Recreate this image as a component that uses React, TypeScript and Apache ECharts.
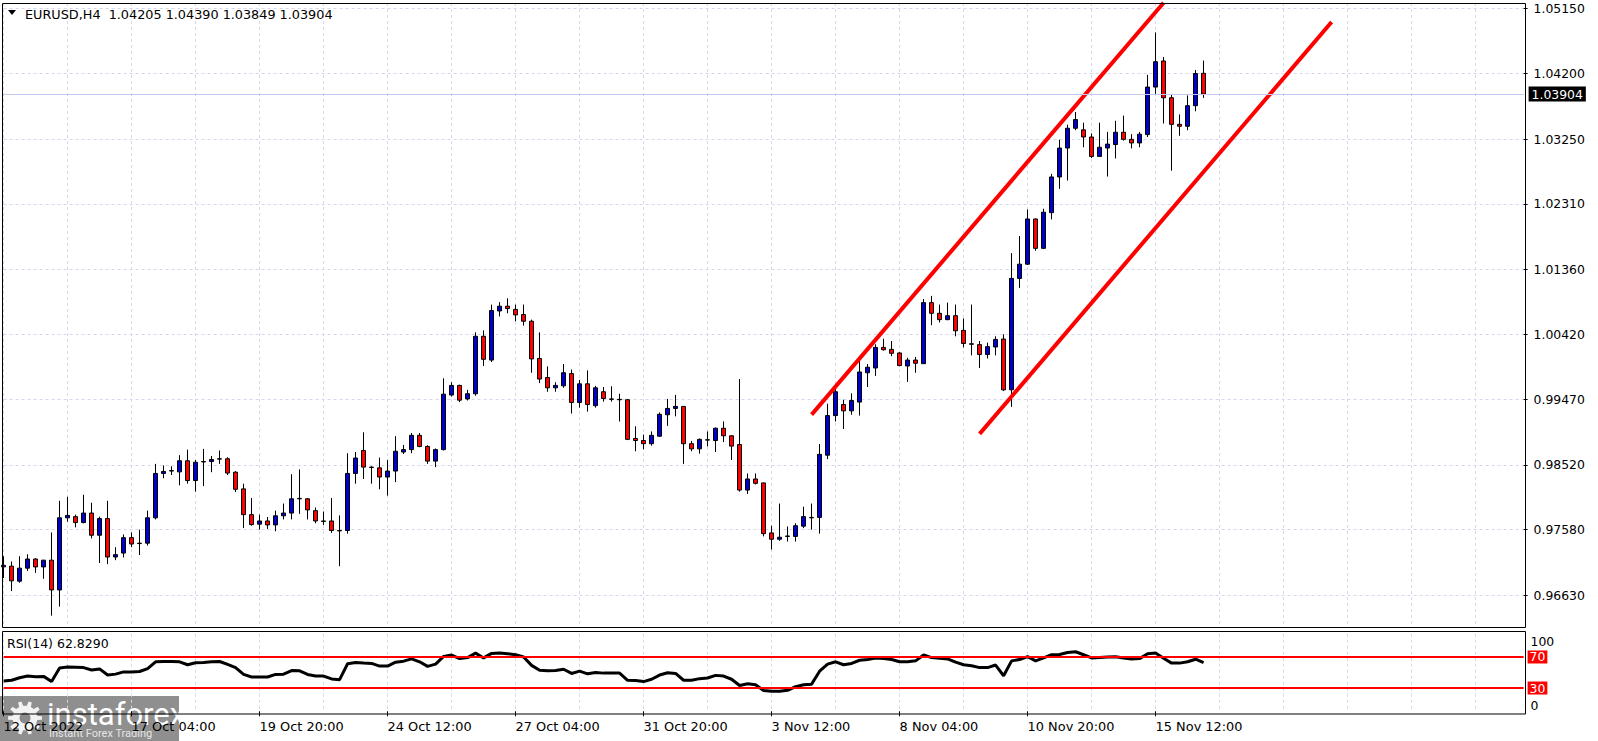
import React, { useEffect, useRef } from 'react';
import * as echarts from 'echarts';

// ---------- data ----------
const symbolName = 'EURUSD,H4';
const rsiName = 'RSI(14)';
const dateLabels = ['12 Oct 2022', '17 Oct 04:00', '19 Oct 20:00', '24 Oct 12:00', '27 Oct 04:00', '31 Oct 20:00', '3 Nov 12:00', '8 Nov 04:00', '10 Nov 20:00', '15 Nov 12:00'];
const barsPerLabel = 16;
const barsPerGridLine = 8;
const slotCount = 191; // bars + empty space to the right

const opens = [
  0.97040, 0.97050, 0.96832, 0.97021, 0.97154, 0.97039, 0.97137, 0.96705, 0.97752, 0.97769,
  0.97683, 0.97821, 0.97499, 0.97741, 0.97183, 0.97240, 0.97464, 0.97384, 0.97384, 0.97752,
  0.98396, 0.98431, 0.98419, 0.98580, 0.98293, 0.98569, 0.98569, 0.98604, 0.98609, 0.98414,
  0.98172, 0.97798, 0.97660, 0.97706, 0.97649, 0.97781, 0.97821, 0.98028, 0.98028, 0.97856,
  0.97706, 0.97706, 0.97568, 0.97568, 0.98396, 0.98730, 0.98488, 0.98477, 0.98344, 0.98431,
  0.98707, 0.98742, 0.98949, 0.98788, 0.98575, 0.98742, 0.99535, 0.99674, 0.99478, 0.99553,
  1.00387, 1.00042, 1.00755, 1.00824, 1.00778, 1.00703, 1.00606, 1.00065, 0.99789, 0.99639,
  0.99668, 0.99846, 0.99426, 0.99697, 0.99380, 0.99582, 0.99478, 0.99472, 0.99466, 0.98903,
  0.98874, 0.98828, 0.98937, 0.99248, 0.99340, 0.99369, 0.98828, 0.98753, 0.98885, 0.98874,
  0.99052, 0.98943, 0.98816, 0.98155, 0.98316, 0.98258, 0.97533, 0.97441, 0.97482, 0.97482,
  0.97631, 0.97758, 0.97758, 0.98661, 0.99236, 0.99397, 0.99305, 0.99432, 0.99858, 0.99927,
  1.00226, 1.00197, 1.00145, 0.99956, 1.00042, 0.99990, 1.00876, 1.00721, 1.00629, 1.00686,
  1.00473, 1.00278, 1.00266, 1.00122, 1.00232, 1.00347, 0.99610, 1.01227, 1.01434, 1.02090,
  1.01664, 1.02182, 1.02700, 1.03120, 1.03407, 1.03384, 1.03280, 1.02998, 1.03120, 1.03171,
  1.03349, 1.03246, 1.03194, 1.03315, 1.04005, 1.04384, 1.03850, 1.03464, 1.03436, 1.03735,
  1.04205,
];
const highs = [
  0.97194, 0.97119, 0.97194, 0.97223, 0.97165, 0.97142, 0.97539, 0.97999, 0.98057, 0.97798,
  0.98086, 0.97971, 0.97769, 0.97999, 0.97326, 0.97510, 0.97539, 0.97580, 0.97856, 0.98535,
  0.98512, 0.98500, 0.98661, 0.98742, 0.98592, 0.98753, 0.98650, 0.98730, 0.98632, 0.98431,
  0.98247, 0.98040, 0.97798, 0.97764, 0.97856, 0.97959, 0.98385, 0.98454, 0.98040, 0.97902,
  0.97844, 0.98040, 0.97787, 0.98690, 0.98707, 0.98994, 0.98500, 0.98626, 0.98592, 0.98937,
  0.98810, 0.98983, 0.98983, 0.98805, 0.98759, 0.99777, 0.99720, 0.99685, 0.99610, 1.00444,
  1.00473, 1.00847, 1.00882, 1.00939, 1.00847, 1.00847, 1.00629, 1.00444, 0.99950, 0.99720,
  0.99984, 0.99904, 0.99754, 0.99892, 0.99668, 0.99651, 0.99662, 0.99553, 0.99478, 0.99081,
  0.98960, 0.99006, 0.99282, 0.99478, 0.99536, 0.99375, 0.98868, 0.98903, 0.99006, 0.99064,
  0.99150, 0.98949, 0.99766, 0.98396, 0.98396, 0.98264, 0.97637, 0.97959, 0.97626, 0.97672,
  0.97913, 0.97959, 0.98822, 0.99409, 0.99697, 0.99466, 0.99559, 1.00099, 0.99984, 1.00272,
  1.00352, 1.00318, 1.00157, 1.00076, 1.00088, 1.00928, 1.00974, 1.00847, 1.00876, 1.00847,
  1.00646, 1.00847, 1.00318, 1.00295, 1.00387, 1.00416, 1.01595, 1.01842, 1.02228, 1.02096,
  1.02239, 1.02746, 1.03241, 1.03459, 1.03643, 1.03488, 1.03332, 1.03488, 1.03355, 1.03516,
  1.03591, 1.03321, 1.03355, 1.04183, 1.04799, 1.04442, 1.03896, 1.03608, 1.03884, 1.04253,
  1.04390,
];
const lows = [
  0.96878, 0.96688, 0.96809, 0.96981, 0.96952, 0.96866, 0.96331, 0.96463, 0.97694, 0.97614,
  0.97672, 0.97453, 0.97096, 0.97079, 0.97137, 0.97177, 0.97326, 0.97211, 0.97349, 0.97729,
  0.98327, 0.98373, 0.98224, 0.98247, 0.98132, 0.98212, 0.98414, 0.98535, 0.98373, 0.98126,
  0.97603, 0.97637, 0.97580, 0.97591, 0.97557, 0.97729, 0.97729, 0.97810, 0.97729, 0.97672,
  0.97649, 0.97533, 0.97050, 0.97522, 0.98247, 0.98316, 0.98247, 0.98166, 0.98074, 0.98270,
  0.98678, 0.98690, 0.98776, 0.98535, 0.98488, 0.98730, 0.99512, 0.99432, 0.99455, 0.99524,
  0.99956, 1.00013, 1.00675, 1.00721, 1.00606, 1.00542, 0.99858, 0.99708, 0.99582, 0.99582,
  0.99639, 0.99265, 0.99351, 0.99294, 0.99351, 0.99438, 0.99438, 0.99150, 0.98880, 0.98718,
  0.98747, 0.98799, 0.98926, 0.99087, 0.99225, 0.98535, 0.98718, 0.98684, 0.98788, 0.98707,
  0.98851, 0.98592, 0.98132, 0.98097, 0.98236, 0.97482, 0.97292, 0.97418, 0.97407, 0.97407,
  0.97603, 0.97580, 0.97522, 0.98604, 0.99150, 0.99041, 0.99248, 0.99236, 0.99651, 0.99812,
  1.00180, 1.00099, 0.99950, 0.99725, 0.99858, 0.99984, 1.00548, 1.00588, 1.00620, 1.00387,
  1.00226, 1.00110, 0.99927, 1.00065, 1.00110, 0.99593, 0.99363, 1.01090, 1.01422, 1.01630,
  1.01653, 1.02084, 1.02527, 1.02648, 1.03378, 1.03131, 1.02975, 1.02992, 1.02706, 1.02969,
  1.03228, 1.03114, 1.03131, 1.03280, 1.03907, 1.03476, 1.02791, 1.03298, 1.03378, 1.03654,
  1.03849,
];
const closes = [
  0.97062, 0.96837, 0.97021, 0.97154, 0.97039, 0.97137, 0.96705, 0.97752, 0.97787, 0.97683,
  0.97821, 0.97499, 0.97741, 0.97183, 0.97217, 0.97464, 0.97372, 0.97378, 0.97752, 0.98396,
  0.98425, 0.98437, 0.98580, 0.98293, 0.98558, 0.98563, 0.98598, 0.98609, 0.98402, 0.98166,
  0.97798, 0.97654, 0.97706, 0.97649, 0.97781, 0.97821, 0.98028, 0.98034, 0.97867, 0.97706,
  0.97700, 0.97568, 0.97562, 0.98396, 0.98620, 0.98488, 0.98483, 0.98344, 0.98431, 0.98718,
  0.98742, 0.98949, 0.98788, 0.98575, 0.98742, 0.99547, 0.99674, 0.99460, 0.99553, 1.00387,
  1.00053, 1.00761, 1.00824, 1.00790, 1.00698, 1.00606, 1.00059, 0.99766, 0.99639, 0.99674,
  0.99858, 0.99426, 0.99697, 0.99397, 0.99639, 0.99484, 0.99472, 0.99466, 0.98891, 0.98874,
  0.98828, 0.98949, 0.99254, 0.99340, 0.99369, 0.98828, 0.98753, 0.98891, 0.98880, 0.99052,
  0.98943, 0.98793, 0.98155, 0.98316, 0.98253, 0.97522, 0.97441, 0.97470, 0.97488, 0.97637,
  0.97769, 0.97752, 0.98673, 0.99236, 0.99582, 0.99305, 0.99455, 0.99869, 0.99938, 1.00226,
  1.00192, 1.00140, 0.99962, 1.00042, 0.99996, 1.00876, 1.00721, 1.00629, 1.00686, 1.00467,
  1.00283, 1.00272, 1.00122, 1.00237, 1.00341, 0.99610, 1.01227, 1.01434, 1.02090, 1.01664,
  1.02188, 1.02700, 1.03120, 1.03407, 1.03533, 1.03280, 1.02998, 1.03131, 1.03177, 1.03349,
  1.03246, 1.03194, 1.03321, 1.04005, 1.04373, 1.03850, 1.03464, 1.03436, 1.03735, 1.04201,
  1.03904,
];
const rsiValues = [
  39.2, 40.0, 43.3, 45.4, 44.6, 45.0, 38.3, 55.8, 57.1, 56.7,
  56.3, 53.3, 54.6, 46.7, 47.9, 50.8, 50.8, 51.3, 55.0, 63.8,
  64.2, 64.2, 63.8, 60.0, 62.5, 62.9, 63.8, 64.2, 60.4, 56.3,
  47.5, 44.2, 44.2, 44.2, 47.5, 47.9, 52.5, 52.1, 47.5, 45.4,
  45.4, 41.7, 40.8, 61.3, 62.9, 62.1, 61.7, 58.3, 58.3, 63.3,
  64.6, 67.5, 63.8, 57.9, 60.8, 70.8, 72.5, 67.9, 69.2, 75.0,
  68.8, 74.6, 75.0, 74.2, 72.9, 70.0, 59.2, 52.9, 52.1, 52.5,
  54.2, 48.8, 51.7, 48.3, 50.0, 49.2, 49.2, 49.2, 40.0, 39.6,
  38.3, 41.3, 46.7, 49.6, 48.8, 40.0, 40.0, 42.1, 42.9, 46.3,
  45.4, 41.3, 33.3, 35.4, 34.2, 26.7, 25.8, 25.8, 27.1, 31.7,
  34.2, 35.0, 51.7, 60.8, 63.8, 60.0, 61.7, 65.8, 66.7, 68.8,
  67.9, 66.7, 63.8, 63.8, 65.0, 72.5, 69.2, 68.3, 67.5, 63.3,
  60.0, 58.8, 56.3, 56.3, 59.6, 45.8, 65.0, 66.7, 70.4, 65.0,
  68.8, 72.9, 73.3, 75.8, 76.7, 72.9, 68.8, 69.2, 70.0, 70.4,
  68.8, 67.5, 67.9, 74.2, 75.0, 68.3, 62.1, 62.1, 63.8, 67.1,
  62.829,
];
const priceTicks = [1.0515, 1.042, 1.0325, 1.0231, 1.0136, 1.0042, 0.9947, 0.9852, 0.9758, 0.9663];
const priceRange = [0.961669, 1.052255];
const rsiTicks = [100, 0];
const rsiLevels = [70, 30];
// channel trend lines: [bar index, price]
const channelUpper = [[101, 0.9925], [145, 1.0523]];
const channelLower = [[122, 0.9897], [166, 1.0495]];

// ---------- styles ----------
const FONT = 'DejaVu Sans';
const GRID_COLOR = '#d6d6ec';
const BULL = '#0000cc';
const BEAR = '#ff0000';

function gearPoints(cx: number, cy: number, rOut: number, rIn: number, teeth: number) {
  const pts: number[][] = [];
  const step = (Math.PI * 2) / teeth;
  for (let k = 0; k < teeth; k++) {
    const a = k * step;
    const angs = [a - step * 0.27, a - step * 0.16, a + step * 0.16, a + step * 0.27];
    const rads = [rIn, rOut, rOut, rIn];
    for (let j = 0; j < 4; j++) pts.push([cx + rads[j] * Math.cos(angs[j]), cy + rads[j] * Math.sin(angs[j])]);
  }
  return pts;
}

export default function App() {
  const ref = useRef<HTMLDivElement>(null);
  useEffect(() => {
    if (!ref.current) return;
    const chart = echarts.init(ref.current, undefined, { renderer: 'svg' });
    const cats = Array.from({ length: slotCount }, (_, i) => String(i));
    const candles = opens.map((o, i) => [o, closes[i], lows[i], highs[i]]);
    const last = opens.length - 1;
    const lastClose = closes[last];
    const lastLabelIdx = (dateLabels.length - 1) * barsPerLabel;
    const showLabel = (idx: number) => idx % barsPerLabel === 0 && idx <= lastLabelIdx;
    const splitLine = { show: true, interval: barsPerGridLine - 1, lineStyle: { color: GRID_COLOR, type: [3, 3], width: 1 } };
    const title = `${symbolName}\u00a0\u00a0${opens[last].toFixed(5)} ${highs[last].toFixed(5)} ${lows[last].toFixed(5)} ${closes[last].toFixed(5)}`;

    const option: any = {
      animation: false,
      backgroundColor: '#ffffff',
      textStyle: { fontFamily: FONT },
      grid: [
        { left: 3.6, top: 3, width: 1520, height: 624 },
        { left: 3.6, top: 633.7, width: 1520, height: 77.6 },
      ],
      xAxis: [
        {
          type: 'category', gridIndex: 0, data: cats, boundaryGap: false,
          axisLine: { show: false }, axisTick: { show: false }, axisLabel: { show: false },
          splitLine,
        },
        {
          type: 'category', gridIndex: 1, data: cats, boundaryGap: false,
          axisLine: { show: false },
          axisTick: { show: true, interval: (i: number) => showLabel(i), length: 5, lineStyle: { color: '#000' } },
          axisLabel: {
            show: true, interval: (i: number) => showLabel(i),
            formatter: (v: string) => dateLabels[Number(v) / barsPerLabel] ?? '',
            align: 'left', margin: 9, color: '#000', fontSize: 12.9, fontFamily: FONT,
          },
          splitLine,
        },
      ],
      yAxis: [
        {
          type: 'value', gridIndex: 0, position: 'right', min: priceRange[0], max: priceRange[1],
          axisLine: { show: false },
          axisTick: { show: true, customValues: priceTicks, length: 4, lineStyle: { color: '#000' } },
          axisLabel: { customValues: priceTicks, formatter: (v: number) => v.toFixed(5), color: '#000', fontSize: 12.4, fontFamily: FONT, margin: 10 },
          splitLine: { show: true, lineStyle: { color: GRID_COLOR, type: [3, 3], width: 1 } },
        },
        {
          type: 'value', gridIndex: 1, position: 'right', min: 0, max: 100,
          axisLine: { show: false },
          axisTick: { show: false, customValues: rsiTicks },
          axisLabel: {
            customValues: rsiTicks, margin: 7,
            formatter: (v: number) => (v === 100 ? '{t|100}' : '{b|0}'),
            rich: {
              t: { padding: [16, 0, 0, 0], fontSize: 12.4, color: '#000', fontFamily: FONT },
              b: { padding: [0, 0, 12, 0], fontSize: 12.4, color: '#000', fontFamily: FONT },
            },
          },
          splitLine: { show: false },
        },
      ],
      series: [
        {
          type: 'candlestick', xAxisIndex: 0, yAxisIndex: 0, data: candles, barWidth: 4, z: 2,
          itemStyle: { color: BULL, color0: BEAR, borderColor: '#000', borderColor0: '#000', borderColorDoji: '#000', borderWidth: 1 },
        },
        {
          // current price line
          type: 'line', xAxisIndex: 0, yAxisIndex: 0, z: 1, symbol: 'none', silent: true,
          data: [[String(last), lastClose]],
          lineStyle: { opacity: 0 },
          markLine: {
            silent: true, symbol: ['none', 'none'], animation: false, precision: 5,
            lineStyle: { color: '#c4c8f0', type: 'solid', width: 1 },
            label: {
              show: true, position: 'end', distance: 5, formatter: lastClose.toFixed(5),
              backgroundColor: '#000', color: '#fff', padding: [2, 3, 1, 3], fontSize: 12.4, fontFamily: FONT,
            },
            data: [{ yAxis: lastClose }],
          },
        },
        {
          type: 'line', xAxisIndex: 0, yAxisIndex: 0, z: 4, symbol: 'none', silent: true,
          data: channelUpper.map(([i, p]) => [String(i), p]),
          lineStyle: { color: '#ff0000', width: 4 },
        },
        {
          type: 'line', xAxisIndex: 0, yAxisIndex: 0, z: 4, symbol: 'none', silent: true,
          data: channelLower.map(([i, p]) => [String(i), p]),
          lineStyle: { color: '#ff0000', width: 4 },
        },
        {
          type: 'line', xAxisIndex: 1, yAxisIndex: 1, data: rsiValues, symbol: 'none', z: 3,
          lineStyle: { color: '#000', width: 3 },
          markLine: {
            silent: true, symbol: ['none', 'none'], animation: false, precision: 0,
            lineStyle: { color: '#ff0000', type: 'solid', width: 2 },
            label: {
              show: true, position: 'end', distance: 4, formatter: (p: any) => String(p.value),
              backgroundColor: '#ff0000', color: '#fff', padding: [1, 2, 0, 2], fontSize: 12.4, fontFamily: FONT,
            },
            data: rsiLevels.map((v) => ({ yAxis: v })),
          },
        },
      ],
      graphic: [
        { type: 'rect', z: 10, shape: { x: 2.5, y: 3.5, width: 1523, height: 624 }, style: { fill: 'none', stroke: '#000', lineWidth: 1 } },
        { type: 'rect', z: 10, shape: { x: 2.5, y: 631.5, width: 1523, height: 82.5 }, style: { fill: 'none', stroke: '#000', lineWidth: 1 } },
        { type: 'polygon', z: 10, shape: { points: [[8, 10], [16, 10], [12, 15]] }, style: { fill: '#000' } },
        { type: 'text', z: 10, x: 25, y: 14, style: { text: title, fill: '#000', fontSize: 12.8, fontFamily: FONT, verticalAlign: 'middle' } },
        { type: 'text', z: 10, x: 7, y: 643, style: { text: `${rsiName} ${rsiValues[last].toFixed(4)}`, fill: '#000', fontSize: 12.5, fontFamily: FONT, verticalAlign: 'middle' } },
        {
          type: 'group', z: 20,
          children: [
            { type: 'rect', shape: { x: 0, y: 696, width: 179, height: 45 }, style: { fill: 'rgba(128,128,128,0.88)' } },
            { type: 'polygon', shape: { points: gearPoints(25, 718, 17, 12.5, 10) }, style: { fill: '#f2f2f2' } },
            { type: 'circle', shape: { cx: 25, cy: 718, r: 5.5 }, style: { fill: '#8a8a8a' } },
            { type: 'text', x: 47, y: 714, style: { text: 'instaforex', fill: '#ffffff', fontSize: 31, fontFamily: 'Roboto', verticalAlign: 'middle' } },
            { type: 'text', x: 49, y: 733, style: { text: 'Instant Forex Trading', fill: '#e6e6e6', fontSize: 11, fontFamily: 'Roboto', verticalAlign: 'middle' } },
          ],
        },
      ],
    };
    chart.setOption(option);
    return () => chart.dispose();
  }, []);
  return <div ref={ref} style={{ position: 'absolute', left: 0, top: 0, width: 1598, height: 741, background: '#fff' }} />;
}
